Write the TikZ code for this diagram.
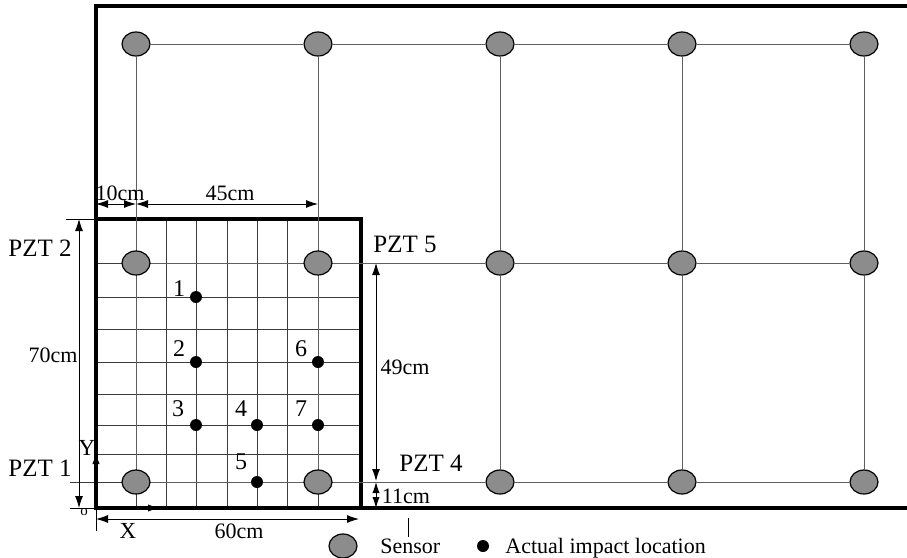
\documentclass[tikz,border=0pt]{standalone}
\usepackage{fontspec}
\setmainfont{Liberation Serif}
\usetikzlibrary{shapes.geometric,arrows.meta}
\definecolor{sgray}{RGB}{140,140,140}
\definecolor{lgray}{RGB}{95,95,95}
\definecolor{ggray}{RGB}{60,60,60}
\begin{document}
\begin{tikzpicture}[x=0.5pt,y=-0.5pt,
  sensor/.style={ellipse,draw=black,line width=0.6pt,fill=sgray,minimum width=14pt,minimum height=12pt,inner sep=0pt},
  impact/.style={circle,fill=black,minimum size=6pt,inner sep=0pt},
  gridline/.style={draw=ggray,line width=0.5pt},
  conn/.style={draw=lgray,line width=0.5pt},
  frame/.style={draw=black,line width=1.8pt},
  dimline/.style={draw=black,line width=0.45pt,{Latex[length=6pt,width=4pt]}-{Latex[length=6pt,width=4pt]}},
  smalldim/.style={draw=black,line width=0.45pt,{Latex[length=5.5pt,width=3.6pt]}-{Latex[length=5.5pt,width=3.6pt]}},
  axisarrow/.style={draw=black,line width=0.5pt,-{Latex[length=6pt,width=3.6pt]}},
  ext/.style={draw=black,line width=0.45pt},
  lbl/.style={font=\fontsize{11}{13}\selectfont,inner sep=0pt},
  pzt/.style={font=\fontsize{12.5}{14}\selectfont,inner sep=0pt},
  num/.style={font=\fontsize{12}{14}\selectfont,inner sep=0pt}]
\useasboundingbox (0,0) rectangle (907,558);

% grid inside the small plate
\foreach \x in {136,166,196,227,257,287,318} \draw[gridline] (\x,219) -- (\x,508);
\foreach \y in {263,297,329,362,394,425,454,482} \draw[gridline] (96,\y) -- (361,\y);
\draw[gridline] (70,482) -- (96,482);

% outer frame and plate
\draw[frame] (907,6) -- (96,6) -- (96,508) -- (907,508);
\draw[draw=black,line width=2pt] (96,219) rectangle (361,508);

% sensors
\foreach \x [count=\i] in {136,318,500,682,864}
  \foreach \y [count=\j] in {44,263,482}
    \node[sensor] (s\i\j) at (\x,\y) {};
\foreach \j in {1,2,3}
  \foreach \i/\k in {1/2,2/3,3/4,4/5}
    \draw[conn] (s\i\j) -- (s\k\j);
\foreach \i in {1,...,5}
  \draw[conn] (s\i1) -- (s\i2) (s\i2) -- (s\i3);

% impact points
\node[impact] (i1) at (196,297) {};
\node[impact] (i2) at (196,362) {};
\node[impact] (i3) at (196,425) {};
\node[impact] (i4) at (257,425) {};
\node[impact] (i5) at (257,482) {};
\node[impact] (i6) at (318,362) {};
\node[impact] (i7) at (318,425) {};
\node[num] (n1) at (179,289) {1};
\node[num] (n2) at (179,349) {2};
\node[num] (n3) at (178,409) {3};
\node[num] (n4) at (241,409) {4};
\node[num] (n5) at (241,462) {5};
\node[num] (n6) at (301,349) {6};
\node[num] (n7) at (301,409) {7};

% PZT labels
\node[pzt] (p2) at (40,248) {PZT 2};
\node[pzt] (p1) at (40,468) {PZT 1};
\node[pzt] (p5) at (405,244) {PZT 5};
\node[pzt] (p4) at (431,463) {PZT 4};

% dimension coordinates
\coordinate (d10a) at (96,204);
\coordinate (d10b) at (136,204);
\coordinate (d45b) at (318,204);
\coordinate (d70a) at (79,219);
\coordinate (d70b) at (79,508);
\coordinate (d49a) at (376,263);
\coordinate (d49b) at (376,481);
\coordinate (d11a) at (376,482);
\coordinate (d11b) at (376,508);
\coordinate (d60a) at (96,519);
\coordinate (d60b) at (359,519);
\coordinate (org) at (96,508);
\coordinate (xend) at (160,508);
\coordinate (yend) at (96,452);

\draw[dimline] (d10a) -- (d10b);
\draw[dimline] (d10b) -- (d45b);
\draw[ext] (66,219) -- (96,219);
\draw[ext] (70,508) -- (96,508);
\draw[dimline] (d70a) -- (d70b);
\draw[dimline] (d49a) -- (d49b);
\draw[smalldim] (d11a) -- (d11b);
\draw[ext] (96,508) -- (96,531);
\draw[dimline] (d60a) -- (d60b);
\draw[axisarrow] (org) -- (xend);
\draw[axisarrow] (org) -- (yend);

\node[lbl] (l10) at (120,193) {10cm};
\node[lbl] (l45) at (230,193) {45cm};
\node[lbl] (l70) at (53,355) {70cm};
\node[lbl] (l49) at (405,367) {49cm};
\node[lbl] (l11) at (406,496) {11cm};
\node[lbl] (l60) at (239,531) {60cm};
\node[font=\fontsize{11.5}{13}\selectfont,inner sep=0pt] (lx) at (128,531) {X};
\node[font=\fontsize{11.5}{13}\selectfont,inner sep=0pt] (ly) at (87,448) {Y};
\node[font=\fontsize{7.5}{9}\selectfont,inner sep=0pt] (lo) at (84,512) {o};

% legend
\draw[ext] (408,518) -- (408,537);
\node[sensor] (legs) at (343,546) {};
\node[lbl,anchor=base west] (legst) at (380,553) {Sensor};
\node[impact] (legi) at (483,546) {};
\node[lbl,anchor=base west] (legit) at (505,553) {Actual impact location};
\end{tikzpicture}
\end{document}
